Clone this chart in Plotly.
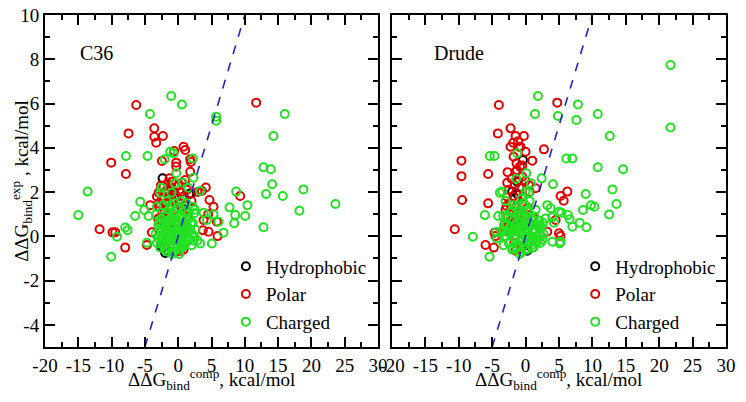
import plotly.graph_objects as go

# C36 panel
c36_hyd_x = [-2.35, -1.5, -1.0, 1.9, 1.65, -2.55, -2.6, -2.2, -1.6, -1.5, -1.95, -2.55, -0.5, 0.5, -2.2, -1.2]
c36_hyd_y = [2.62, 2.05, 1.9, 1.94, 1.91, 0.73, -0.44, -0.47, -0.65, -0.7, -0.75, 0.8, 1.7, 1.3, 1.2, 0.3]

c36_pol_x = [-6.3, -3.6, -3.6, -2.3, -3.3, -7.46, 0.8, 1.05, -2.45, -0.6, -0.3, -0.3, 1.8, 1.9,
             -10.06, -7.85, 1.8, -1.3, -0.95, 0.55, 1.05, 4.15, 3.55, 2.9, -2.95, -2.2, 9.3, 11.7,
             -11.8, -9.86, -9.46, -7.96, -4.2, -3.95, -4.7, -2.8, -2.35, 0.3, 3.8, 4.5, 4.7, 5.3,
             5.8, 3.7, 4.55, 5.9,
             -3.2, -2.9, -2.6, -2.4, -2.2, -2.0, -1.8, -1.6, -1.4, -1.2, -1.0, -0.8, -0.6, -0.4,
             -0.2, 0.0, 0.2, 0.4, 0.6, 0.8, 1.0, 1.3, -1.5, -3.0, -2.0, 0.8, -0.3, 1.5, 2.0]
c36_pol_y = [5.93, 4.88, 4.5, 4.53, 4.23, 4.65, 4.05, 3.9, 3.4, 3.85, 3.33, 3.15, 3.48, 3.36,
             3.33, 2.82, 2.92, 2.62, 2.47, 2.42, 2.54, 2.21, 2.05, 2.0, 1.97, 2.24, 1.82, 6.04,
             0.32, 0.18, 0.18, -0.51, 1.41, 0.18, -0.39, 1.34, 1.04, -0.65, 0.74, 1.0, 1.64, 1.34,
             0.66, 0.28, 0.21, 0.01,
             1.8, 1.5, 2.3, 1.7, 1.1, 2.0, 1.5, 2.4, 1.8, 1.3, 2.2, 1.6, 2.0, 1.2,
             1.8, 2.3, 1.5, 2.0, 1.2, 1.8, 1.4, 2.1, 0.9, 0.8, -0.3, -0.6, -0.7, 0.9, 1.6]

c36_chg_x = [-4.25, -1.05, 0.55, 5.7, 5.7, 16.0, 14.3, -7.85, -4.6, -1.2, -0.7, -2.05, 2.2,
             12.8, 13.9, -0.3, 2.3, 0.7, 3.3, -2.7, -1.0, 8.7, -13.6, 13.2, 14.1, 15.7, 18.8,
             -5.7, -15.0, -9.2, -7.96, -7.6, -10.06, -6.46, -5.1, -4.45, -4.7, -3.2, 0.15,
             2.4, 2.2, 3.8, 4.3, 5.3, 6.05, 5.05, 2.9, 3.3, 6.8, 7.7, 8.56, 8.4, 10.06, 10.4,
             12.8, 18.2, 23.6,
             -2.5, -1.7, -3.3, -0.5, 1.5, 2.5, -2.8,
             -3.4, -3.2, -3.0, -2.9, -2.7, -2.6, -2.5, -2.4, -2.2, -2.1, -2.0, -1.9, -1.8, -1.7,
             -1.6, -1.5, -1.4, -1.3, -1.2, -1.1, -1.0, -0.9, -0.8, -0.7, -0.6, -0.5, -0.4, -0.3,
             -0.2, -0.1, 0.0, 0.1, 0.2, 0.3, 0.4, 0.5, 0.6, 0.8, 0.9, 1.0, 1.1, 1.3, 1.5, 1.6,
             1.8, 2.0, 2.2, 2.4, 2.6, 1.2, -0.5, 0.5, -2.2,
             -3.0, -2.6, -2.3, -1.9, -1.6, -1.5, -1.2, -1.0, -0.8, -0.6, -0.4, -0.3, -0.1, 0.0,
             0.2, 0.3, 0.5, 0.7, 0.9, 1.1, 1.2, 1.4, 1.7, 1.9, 2.1, -2.0, -1.3, -0.7, 0.1, 0.6,
             -0.9, 0.4, -1.7, 1.0, -2.4, 0.8, -0.2, -1.1, 1.6, 2.3]
c36_chg_y = [5.53, 6.34, 5.96, 5.4, 5.22, 5.53, 4.53, 3.63, 3.63, 3.82, 3.75, 3.48, 3.52,
             3.12, 3.03, 2.85, 2.65, 2.42, 2.05, 1.97, 1.97, 2.02, 2.02, 1.91, 2.35, 1.82, 2.12,
             1.56, 0.96, -0.02, 0.4, 0.28, -0.92, 0.92, 1.19, 0.92, -0.29, 1.34, -0.8,
             1.04, 1.34, 1.07, 0.74, 1.0, 0.66, -0.32, -0.2, -0.32, 0.16, 1.31, 0.96, 0.59, 0.92, 1.41,
             0.41, 1.16, 1.46,
             2.2, 1.6, 1.0, 2.4, 2.2, 1.2, 0.6,
             0.1, -0.3, 0.5, 0.0, -0.5, 0.3, 0.8, -0.2, 0.5, 0.1, -0.6, 0.9, 0.3, -0.3,
             0.6, 0.0, 1.2, -0.5, 0.4, 0.8, -0.2, 0.2, 1.0, -0.7, 0.5, -0.1, 0.8, 0.2,
             -0.4, 0.6, 1.3, 0.0, -0.6, 0.4, 0.9, -0.2, 0.2, 0.6, -0.4, 1.1, 0.1, 0.5, -0.2, 0.8,
             0.3, -0.4, 0.6, 0.0, 0.3, 1.5, 1.5, 1.6, 1.4,
             -0.1, 0.6, -0.4, 0.2, -0.7, 0.7, -0.1, 0.5, -0.5, 0.1, -0.3, 0.6, 0.3, -0.2,
             0.9, -0.4, 0.5, 0.0, 0.4, -0.3, 0.8, 0.2, -0.1, 0.6, 0.1, 0.4, 0.2, 0.8, 0.6, -0.5,
             -0.8, 0.1, 1.0, 0.7, 0.0, 1.3, 1.0, 1.4, 1.1, -0.2]

# Drude panel
drude_hyd_x = [-0.4, -1.25, -2.0, -1.25, 0.25, -0.5, 0.3, -2.2]
drude_hyd_y = [3.45, 2.47, 2.02, 1.91, -0.65, 1.5, -0.4, 0.5]

drude_pol_x = [-4.0, 4.74, -2.25, -4.15, -1.5, -0.25, -1.85, -1.0, -2.25, -0.75, 2.75, 0.0,
               -9.6, 1.0, -1.35, -0.85, -1.5, -0.5, -9.6, -5.6, -2.75, 6.25, 5.24, 0.5, 1.5,
               -10.6, -9.5, -5.6, -6.0, -4.75, -4.65, -4.5, -2.85, -2.25, -2.65, -1.99, -1.25,
               -1.5, 3.25, 4.5, 5.7, 5.24, 5.0,
               -3.0, -2.8, -2.5, -2.6, -2.3, -2.1, -2.0, -1.8, -1.8, -1.6, -1.5, -1.3, -1.2, -1.0,
               -0.9, -0.7, -0.5, -0.4, -0.2, 0.0, 0.3, 0.6, -2.4, -1.7, -0.6, 1.0, -3.2, -2.7, -1.1]
drude_pol_y = [5.93, 6.04, 4.88, 4.65, 4.53, 4.53, 4.23, 4.05, 4.05, 4.05, 3.93, 3.82,
               3.42, 3.42, 3.3, 3.15, 2.92, 2.69, 2.72, 2.82, 2.42, 2.02, 1.82, 2.32, 2.17,
               0.32, 1.64, 1.49, -0.39, -0.51, 0.16, 0.01, 1.37, 1.19, 0.89, 0.66, 1.04,
               -0.65, 0.21, 0.74, 1.61, 0.01, 0.14,
               1.2, 1.8, 2.1, 0.6, 1.5, 2.6, 1.0, 3.6, 1.8, 2.3, 1.3, 3.0, 0.8, 1.6,
               2.2, 1.1, 3.2, 1.8, 0.6, 2.5, 1.3, 2.0, 0.2, -0.3, -0.5, 0.9, 0.4, 2.9, 4.3]

drude_chg_x = [21.7, 21.7, 1.85, 7.83, 1.4, 4.84, 10.8, 7.6, 12.6, -1.25, -5.35, -4.65, 6.1, 7.0,
               10.8, 14.6, 0.1, 2.4, 4.1, 13.0, 9.0, -3.85, -3.5, 0.0, 0.5,
               -6.1, -4.1, -7.9, -5.4, -4.3, -4.4, -3.25, -2.75, -3.35, -0.85, 3.0, 4.0, 4.24,
               5.0, 6.33, 6.6, 7.0, 8.1, 9.1, 8.6, 9.8, 10.3, 12.5, 13.6, 5.24, 5.1, 4.0,
               2.5, 1.75, 0.75, 5.35, 3.25, 3.75,
               -1.4, 0.8, -0.3, 1.5, -3.0, 2.0, 1.2,
               -3.6, -3.3, -3.1, -2.9, -2.7, -2.5, -2.4, -2.2, -2.0, -1.9, -1.8, -1.6, -1.5, -1.4,
               -1.3, -1.1, -1.0, -0.9, -0.8, -0.7, -0.5, -0.4, -0.3, -0.2, -0.1, 0.0, 0.1, 0.2,
               0.3, 0.4, 0.5, 0.6, 0.7, 0.9, 1.0, 1.1, 1.3, 1.4, 1.6, 1.8, 2.0, 2.2, 2.4, 2.7,
               -0.6, 0.6, -1.8,
               -3.2, -2.8, -2.5, -2.2, -1.9, -1.7, -1.4, -1.2, -1.0, -0.8, -0.6, -0.5, -0.3, -0.1,
               0.1, 0.2, 0.4, 0.6, 0.8, 1.0, 1.2, 1.5, 1.7, 2.0, 2.3, -2.0, -1.1, 0.3, 1.1, -0.9,
               -2.6, 2.6]
drude_chg_y = [7.74, 4.92, 6.34, 5.96, 5.53, 5.44, 5.53, 5.26, 4.53, 3.75, 3.63, 3.63, 3.52, 3.52,
               3.12, 3.03, 2.85, 2.62, 2.35, 2.12, 1.91, 1.97, 2.02, 2.02, 1.97,
               0.96, 0.92, -0.02, -0.92, -0.1, 0.2, 0.51, 0.21, 0.92, -0.8, 0.81, 0.86, 0.61,
               1.11, 0.96, 0.77, 0.43, 0.61, 0.41, 1.19, 1.41, 1.34, 0.99, 1.46, -0.24, -0.32, -0.24,
               -0.17, -0.24, -0.24, 1.07, 1.41, 1.27,
               2.6, 2.4, 1.5, 1.2, 1.6, 0.5, -0.5,
               0.2, -0.4, 0.6, 0.0, 0.9, -0.3, 0.4, 1.1, -0.6, 0.2, 0.7, -0.1, 0.5, 1.3,
               -0.5, 0.3, 0.9, -0.2, 0.6, -0.7, 0.1, 1.0, -0.4, 0.5, 1.4, -0.1, 0.7, -0.6,
               0.3, 1.1, -0.3, 0.5, 0.0, 0.8, -0.5, 0.3, 0.9, -0.1, 0.5, 0.0, 0.7, -0.3, 0.4, 0.1,
               1.7, 1.6, 1.4,
               0.0, 0.5, -0.3, 0.8, -0.5, 0.3, 0.0, 0.6, -0.4, 0.2, 0.9, -0.2, 0.4, -0.6,
               0.2, 0.9, -0.1, 0.5, -0.4, 0.2, 0.7, 0.3, -0.2, 0.4, 0.0, 1.2, 1.1, 1.2, -0.1, 0.4,
               0.2, 0.6]

diag = [-5, 10]  # y = x reference line

x_ticks = [-20, -15, -10, -5, 0, 5, 10, 15, 20, 25, 30]
x_ticktext = ["-20", "-15", "-10", "-5", "0", "5", "10", "15", "20", "25", "30"]
y_ticks = [-4, -2, 0, 2, 4, 6, 8, 10]
y_ticktext = ["-4", "-2", "0", "2", "4", "6", "8", "10"]

groups = ["Hydrophobic", "Polar", "Charged"]
colors = ["#000000", "#e00000", "#22e022"]

FONT = "Liberation Serif"

fig = go.Figure()

panels = [
    ("x", "y", "legend",
     [(c36_hyd_x, c36_hyd_y), (c36_pol_x, c36_pol_y), (c36_chg_x, c36_chg_y)]),
    ("x2", "y2", "legend2",
     [(drude_hyd_x, drude_hyd_y), (drude_pol_x, drude_pol_y), (drude_chg_x, drude_chg_y)]),
]

for xa, ya, lg, sets in panels:
    for name, col, (xs, ys) in zip(groups, colors, sets):
        fig.add_trace(go.Scatter(
            x=xs, y=ys, mode="markers", name=name, legend=lg,
            xaxis=xa, yaxis=ya,
            marker=dict(symbol="circle-open", size=8, color=col, line=dict(width=2, color=col)),
        ))
    fig.add_trace(go.Scatter(
        x=diag, y=diag, mode="lines", showlegend=False, xaxis=xa, yaxis=ya,
        line=dict(color="#2323c8", width=1.6, dash="dash"),
    ))

axis_common = dict(
    showline=True, linewidth=2, linecolor="black", mirror="allticks",
    ticks="inside", ticklen=10, tickwidth=1.5, tickcolor="black",
    showgrid=False, zeroline=False, automargin=False, ticklabeloverflow="allow",
    tickfont=dict(family=FONT, size=19, color="black"),
)

xtitle = "ΔΔG<sub>bind</sub><sup>comp</sup>, kcal/mol"

# the page body adds an 8px offset, so the figure is drawn 16px smaller
fig.update_layout(
    width=730, height=386,
    margin=dict(l=37, r=12, t=7, b=47),
    paper_bgcolor="white", plot_bgcolor="white",
    font=dict(family=FONT, size=19, color="black"),
    xaxis=dict(domain=[0, 0.489], range=[-20, 30], tickmode="array", tickvals=x_ticks,
               ticktext=x_ticktext, minor=dict(dtick=2.5, tick0=-20, ticks="inside", ticklen=5,
                                               tickcolor="black"),
               anchor="y", **axis_common),
    yaxis=dict(range=[-5, 10], tickmode="array", tickvals=y_ticks, ticktext=y_ticktext,
               minor=dict(dtick=1, tick0=-5, ticks="inside", ticklen=5, tickcolor="black"),
               title=dict(text="ΔΔG<sub>bind</sub><sup>exp</sup> , kcal/mol",
                          font=dict(family=FONT, size=19), standoff=0),
               anchor="x", **axis_common),
    xaxis2=dict(domain=[0.5095, 1], range=[-20, 30], tickmode="array", tickvals=x_ticks,
                ticktext=x_ticktext, minor=dict(dtick=2.5, tick0=-20, ticks="inside", ticklen=5,
                                                tickcolor="black"),
                anchor="y2", **axis_common),
    yaxis2=dict(range=[-5, 10], tickmode="array", tickvals=y_ticks, showticklabels=False,
                minor=dict(dtick=1, tick0=-5, ticks="inside", ticklen=5, tickcolor="black"),
                anchor="x2", **axis_common),
    legend=dict(x=0.48, y=0.30, xanchor="right", yanchor="top", bgcolor="rgba(0,0,0,0)",
                font=dict(family=FONT, size=19), itemwidth=30, tracegroupgap=0),
    legend2=dict(x=0.993, y=0.30, xanchor="right", yanchor="top", bgcolor="rgba(0,0,0,0)",
                 font=dict(family=FONT, size=19), itemwidth=30, tracegroupgap=0),
    annotations=[
        dict(text="C36", x=-15, y=8.3, xref="x", yref="y", xanchor="left", showarrow=False,
             font=dict(family=FONT, size=20)),
        dict(text="Drude", x=-14, y=8.3, xref="x2", yref="y2", xanchor="left", showarrow=False,
             font=dict(family=FONT, size=20)),
        dict(text=xtitle, x=0.5, y=-0.052, xref="x domain", yref="paper", xanchor="center",
             yanchor="top", showarrow=False, font=dict(family=FONT, size=19)),
        dict(text=xtitle, x=0.5, y=-0.052, xref="x2 domain", yref="paper", xanchor="center",
             yanchor="top", showarrow=False, font=dict(family=FONT, size=19)),
    ],
)

fig.write_html("out.html")
